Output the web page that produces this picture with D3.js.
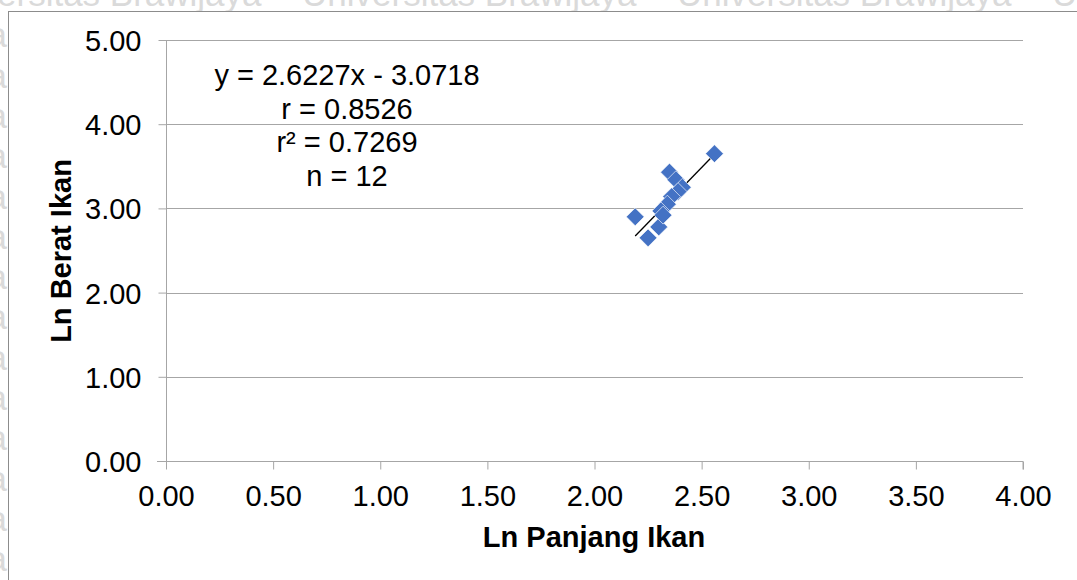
<!DOCTYPE html>
<html>
<head>
<meta charset="utf-8">
<script src="https://cdn.jsdelivr.net/npm/d3@7"></script>
<style>
  body { margin: 0; background: #fff; }
  text { font-family: "Liberation Sans", Arial, sans-serif; }
</style>
</head>
<body>
<svg id="canvas" width="1077" height="580"></svg>
<script>
// data
let lnPanjang = [2.56, 2.19, 2.25, 2.30, 2.35, 2.38, 2.41, 2.39, 2.36, 2.34, 2.31, 2.32]
let lnBerat   = [3.65, 2.90, 2.65, 2.78, 3.43, 3.34, 3.25, 3.20, 3.14, 3.05, 2.97, 2.92]

let xTicks = [0, 0.5, 1, 1.5, 2, 2.5, 3, 3.5, 4]
let yTicks = [0, 1, 2, 3, 4, 5]

let slope = 2.6227
let intercept = -3.0718
let statLines = ['y = 2.6227x - 3.0718', 'r = 0.8526', 'r² = 0.7269', 'n = 12']

let canvas = d3.select('#canvas')

let plotLeft = 166, plotRight = 1023, plotTop = 40, plotBottom = 461

let xScale = d3.scaleLinear().domain([0, 4]).range([plotLeft, plotRight])
let yScale = d3.scaleLinear().domain([0, 5]).range([plotBottom, plotTop])

// watermark behind the frame
let wm = canvas.append('g').attr('fill', '#dadada').style('font-size', '35px')
;[-73, 302, 677, 1052].forEach((x) => {
    wm.append('text').attr('x', x).attr('y', 6).text('Universitas Brawijaya')
})
d3.range(1, 15).forEach((k) => {
    wm.append('text')
        .attr('x', 7).attr('y', 7 + k * 40.3)
        .attr('text-anchor', 'end')
        .text('Universitas Brawijaya')
})

// chart frame
canvas.append('rect')
    .attr('x', 8.5).attr('y', 11.5)
    .attr('width', 1100).attr('height', 600)
    .attr('fill', '#fff')
    .attr('stroke', '#8c8c8c')
    .attr('stroke-width', 1)

// gridlines
canvas.append('g').selectAll('line')
    .data(yTicks.filter(d => d > 0))
    .enter()
    .append('line')
    .attr('x1', plotLeft).attr('x2', plotRight)
    .attr('y1', d => Math.round(yScale(d)) + 0.5)
    .attr('y2', d => Math.round(yScale(d)) + 0.5)
    .attr('stroke', '#a6a6a6')

// axes
let xAxis = d3.axisBottom(xScale).tickValues(xTicks).tickFormat(d3.format('.2f')).tickSize(8).tickPadding(10)
let yAxis = d3.axisLeft(yScale).tickValues(yTicks).tickFormat(d3.format('.2f')).tickSize(8).tickPadding(17)

let gx = canvas.append('g').attr('transform', 'translate(0,' + (plotBottom + 0.5) + ')').call(xAxis)
let gy = canvas.append('g').attr('transform', 'translate(' + (plotLeft + 0.5) + ',0)').call(yAxis)

;[gx, gy].forEach((g) => {
    g.select('.domain').attr('stroke', '#a6a6a6')
    g.selectAll('.tick line').attr('stroke', '#a6a6a6')
    g.selectAll('.tick text')
        .attr('fill', '#000')
        .style('font-size', '29px')
        .style('font-family', '"Liberation Sans", Arial, sans-serif')
})
gx.select('.domain').attr('d', 'M' + (plotLeft - 9) + ',0H' + plotRight + 'V8')
gy.select('.domain').attr('d', 'M0,' + plotTop + 'V' + plotBottom)
gy.selectAll('.tick text').attr('dy', '0.36em')
gx.selectAll('.tick text').attr('dy', '0.9em')

// trend line over the data range
let xMin = d3.min(lnPanjang), xMax = d3.max(lnPanjang)
canvas.append('line')
    .attr('x1', xScale(xMin)).attr('y1', yScale(slope * xMin + intercept))
    .attr('x2', xScale(xMax)).attr('y2', yScale(slope * xMax + intercept))
    .attr('stroke', '#000')
    .attr('stroke-width', 1.3)

// points
let points = lnPanjang.map((x, i) => ({x: x, y: lnBerat[i]}))
canvas.append('g').selectAll('path')
    .data(points)
    .enter()
    .append('path')
    .attr('d', d3.symbol().type(d3.symbolSquare).size(160))
    .attr('transform', d => 'translate(' + xScale(d.x) + ',' + yScale(d.y) + ') rotate(45)')
    .attr('fill', '#4472c4')
    .attr('stroke', '#ffffff')
    .attr('stroke-width', 0.6)

// equation block
canvas.append('g').selectAll('text')
    .data(statLines)
    .enter()
    .append('text')
    .attr('x', 347)
    .attr('y', (d, i) => 85 + i * 33.5)
    .attr('text-anchor', 'middle')
    .style('font-size', '29px')
    .text(d => d)

// axis titles
canvas.append('text')
    .attr('x', 594).attr('y', 547)
    .attr('text-anchor', 'middle')
    .style('font-size', '29px')
    .style('font-weight', 'bold')
    .text('Ln Panjang Ikan')

canvas.append('text')
    .attr('transform', 'translate(71,251) rotate(-90)')
    .attr('text-anchor', 'middle')
    .style('font-size', '29px')
    .style('font-weight', 'bold')
    .text('Ln Berat Ikan')
</script>
</body>
</html>
